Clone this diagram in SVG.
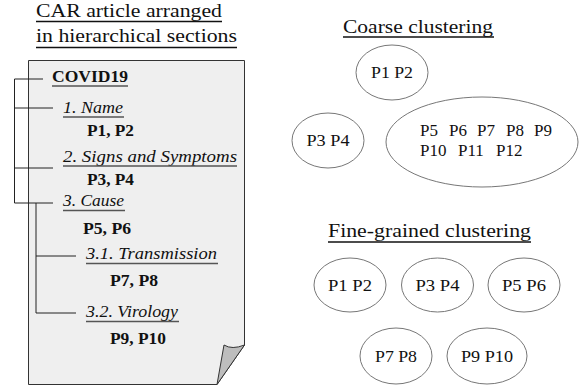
<svg xmlns="http://www.w3.org/2000/svg" width="580" height="392" viewBox="0 0 580 392">
<style>
svg text.t, svg text.t tspan{font-family:'Liberation Serif','Times New Roman',serif !important;fill:#111}
.title{font-size:18.5px}
.sec{font-size:16px;font-style:italic}
.para{font-size:16px;font-weight:bold}
.root{font-size:16px;font-weight:bold}
.ul{stroke:#111;stroke-width:1.3}
.sul{stroke:#555;stroke-width:1.4}
.tree{stroke:#222;stroke-width:1;fill:none}
.cl{fill:#fff;stroke:#777;stroke-width:1}
.lbl{font-size:16px;text-anchor:middle}
.big{font-size:17px}
</style>
<rect width="580" height="392" fill="#fff"/>
<g font-family="Liberation Serif, serif">
<g id="title-left">
<text class="t title" x="36" y="17" textLength="186" lengthAdjust="spacingAndGlyphs">CAR article arranged</text>
<line class="ul" x1="36" y1="21.5" x2="222" y2="21.5"/>
<text class="t title" x="36" y="42" textLength="201" lengthAdjust="spacingAndGlyphs">in hierarchical sections</text>
<line class="ul" x1="36" y1="47.5" x2="237" y2="47.5"/>
</g>
<g id="page">
<path d="M28.5,60.5 H244.5 V345 L217,384.5 H28.5 Z" fill="#efefef" stroke="#333" stroke-width="1"/>
<path d="M224,345 Q232,350 244.5,345 L217,384.5 Z" fill="#bdbdbd" stroke="#333" stroke-width="1" stroke-linejoin="round"/>
</g>
<g id="connectors">
<path class="tree" d="M14.5,79 V203 M14.5,79 H43 M14.5,108 H53 M14.5,168 H53 M14.5,203 H53"/>
<path class="tree" d="M36,203 V313 M36,256 H76 M36,313 H76"/>
</g>
<g id="covid19">
<text class="t root" x="52" y="82" textLength="76" lengthAdjust="spacingAndGlyphs">COVID19</text>
<line class="sul" x1="52" y1="86" x2="128" y2="86"/>
</g>
<g id="sec-name">
<text class="t sec" x="63" y="113" textLength="60" lengthAdjust="spacingAndGlyphs">1. Name</text>
<line class="sul" x1="63" y1="117" x2="124" y2="117"/>
<text class="t para" x="87" y="136" textLength="47" lengthAdjust="spacingAndGlyphs">P1, P2</text>
</g>
<g id="sec-signs">
<text class="t sec" x="63" y="162" textLength="174" lengthAdjust="spacingAndGlyphs">2. Signs and Symptoms</text>
<line class="sul" x1="63" y1="166" x2="237" y2="166"/>
<text class="t para" x="87" y="185" textLength="47" lengthAdjust="spacingAndGlyphs">P3, P4</text>
</g>
<g id="sec-cause">
<text class="t sec" x="63" y="206" textLength="61" lengthAdjust="spacingAndGlyphs">3. Cause</text>
<line class="sul" x1="63" y1="210.5" x2="125" y2="210.5"/>
<text class="t para" x="83" y="234" textLength="48" lengthAdjust="spacingAndGlyphs">P5, P6</text>
</g>
<g id="sec-transmission">
<text class="t sec" x="86" y="259" textLength="131" lengthAdjust="spacingAndGlyphs">3.1. Transmission</text>
<line class="sul" x1="86" y1="263.5" x2="218" y2="263.5"/>
<text class="t para" x="110" y="286" textLength="48" lengthAdjust="spacingAndGlyphs">P7, P8</text>
</g>
<g id="sec-virology">
<text class="t sec" x="86" y="317" textLength="92" lengthAdjust="spacingAndGlyphs">3.2. Virology</text>
<line class="sul" x1="86" y1="321.5" x2="179" y2="321.5"/>
<text class="t para" x="110" y="344" textLength="56" lengthAdjust="spacingAndGlyphs">P9, P10</text>
</g>
<g id="title-coarse">
<text class="t title" x="343" y="33" textLength="150" lengthAdjust="spacingAndGlyphs">Coarse clustering</text>
<line class="ul" x1="343" y1="37" x2="494" y2="37"/>
</g>
<g id="c-p1p2"><ellipse class="cl" cx="392" cy="72.5" rx="36" ry="27.5"/><text class="t lbl" x="392" y="78" textLength="42" lengthAdjust="spacingAndGlyphs">P1 P2</text></g>
<g id="c-p3p4"><ellipse class="cl" cx="328" cy="140.5" rx="36" ry="27.5"/><text class="t lbl" x="328" y="146" textLength="43" lengthAdjust="spacingAndGlyphs">P3 P4</text></g>
<g id="c-p5p12"><ellipse class="cl" cx="482" cy="142" rx="96" ry="45"/>
<text class="t big" y="136"><tspan x="420">P5</tspan><tspan x="449">P6</tspan><tspan x="477">P7</tspan><tspan x="506">P8</tspan><tspan x="534">P9</tspan></text>
<text class="t big" y="156"><tspan x="420">P10</tspan><tspan x="458">P11</tspan><tspan x="496">P12</tspan></text>
</g>
<g id="title-fine">
<text class="t title" x="328" y="237" textLength="203" lengthAdjust="spacingAndGlyphs">Fine-grained clustering</text>
<line class="ul" x1="328" y1="242" x2="531" y2="242"/>
</g>
<g id="f-p1p2"><ellipse class="cl" cx="350" cy="285" rx="36" ry="27"/><text class="t lbl" x="350" y="291" textLength="44" lengthAdjust="spacingAndGlyphs">P1 P2</text></g>
<g id="f-p3p4"><ellipse class="cl" cx="437.5" cy="285" rx="36" ry="27"/><text class="t lbl" x="437.5" y="291" textLength="44" lengthAdjust="spacingAndGlyphs">P3 P4</text></g>
<g id="f-p5p6"><ellipse class="cl" cx="524" cy="285" rx="36" ry="27"/><text class="t lbl" x="524" y="291" textLength="44" lengthAdjust="spacingAndGlyphs">P5 P6</text></g>
<g id="f-p7p8"><ellipse class="cl" cx="396" cy="356" rx="36" ry="28"/><text class="t lbl" x="396" y="362" textLength="42" lengthAdjust="spacingAndGlyphs">P7 P8</text></g>
<g id="f-p9p10"><ellipse class="cl" cx="487" cy="356" rx="40" ry="28"/><text class="t lbl" x="487" y="362" textLength="52" lengthAdjust="spacingAndGlyphs">P9 P10</text></g>
</g>
</svg>
